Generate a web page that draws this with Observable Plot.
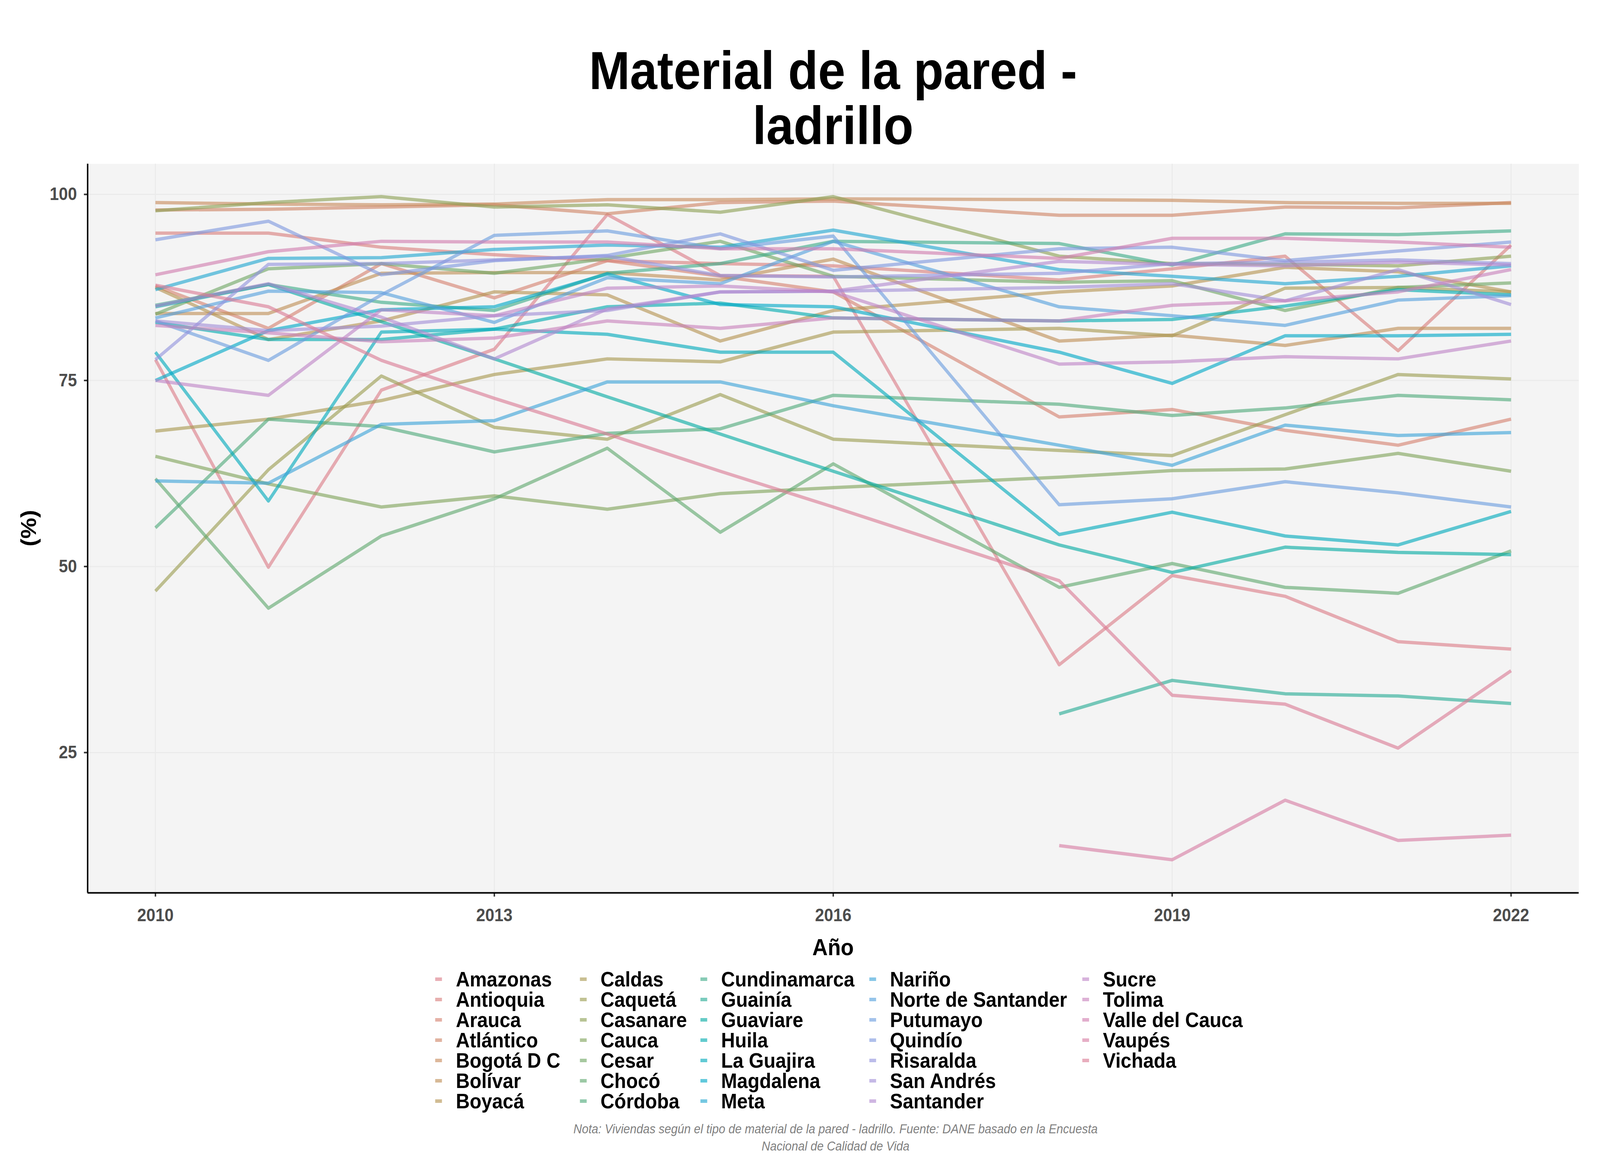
<!DOCTYPE html>
<html>
<head>
<meta charset="utf-8">
<script src="https://cdn.jsdelivr.net/npm/d3@7"></script>
<script src="https://cdn.jsdelivr.net/npm/@observablehq/plot@0.6"></script>
<style>
html, body { margin: 0; padding: 0; background: #ffffff; overflow: hidden; width: 100%; height: 100%; }
#root { position: absolute; left: 0; top: 0; width: 4500px; height: 3000px; background: #ffffff; overflow: hidden;
  transform-origin: 0 0; font-family: "Liberation Sans", Arial, Helvetica, sans-serif; }
#title { position: absolute; left: 2343px; top: 110px; transform: translateX(-50%); text-align: center;
  font-size: 138px; line-height: 141px; font-weight: bold; color: #000; white-space: nowrap; }
#ylab { position: absolute; left: 81px; top: 1352px; transform: translate(-50%, -50%) rotate(-90deg);
  font-size: 60px; font-weight: bold; color: #000; white-space: nowrap; }
#xlab { position: absolute; left: 2343px; top: 2424px; transform: translate(-50%, -50%);
  font-size: 60px; font-weight: bold; color: #000; white-space: nowrap; }
#plot { position: absolute; left: 0; top: 0; }
.item { position: absolute; height: 52px; line-height: 52px; font-size: 54px; font-weight: bold; color: #000; white-space: nowrap; }
.key { position: absolute; width: 19px; height: 9px; }
#caption { position: absolute; left: 2350px; top: 2868px; transform: translateX(-50%); text-align: center;
  font-size: 33px; line-height: 44px; font-style: italic; color: #808080; white-space: nowrap; }
svg text { font-family: "Liberation Sans", Arial, Helvetica, sans-serif; }
</style>
</head>
<body>
<div id="root">
  <div id="title">Material de la pared -<br>ladrillo</div>
  <div id="plot"></div>
  <div id="ylab">(%)</div>
  <div id="xlab">Año</div>
  <div id="legend"></div>
  <div id="caption">Nota: Viviendas según el tipo de material de la pared - ladrillo. Fuente: DANE basado en la Encuesta<br>Nacional de Calidad de Vida</div>
</div>
<script>
// ---------------- data ----------------
const years = [2010, 2011, 2012, 2013, 2014, 2015, 2016, 2018, 2019, 2020, 2021, 2022];
const xTicks = [2010, 2013, 2016, 2019, 2022];
const yTicks = [25, 50, 75, 100];

const departamentos = [
  "Amazonas", "Antioquia", "Arauca", "Atlántico", "Bogotá D C", "Bolívar", "Boyacá",
  "Caldas", "Caquetá", "Casanare", "Cauca", "Cesar", "Chocó", "Córdoba",
  "Cundinamarca", "Guainía", "Guaviare", "Huila", "La Guajira", "Magdalena", "Meta",
  "Nariño", "Norte de Santander", "Putumayo", "Quindío", "Risaralda", "San Andrés", "Santander",
  "Sucre", "Tolima", "Valle del Cauca", "Vaupés", "Vichada"
];

const amazonas      = [77.8, 49.9, 73.7, 79.2, 97.3, 89.1, 89.0, 36.8, 48.8, 46.0, 39.9, 38.9];
const antioquia     = [94.8, 94.8, 92.9, 91.9, 91.1, 90.7, 90.4, 88.5, 90.0, 91.7, 79.0, 93.2];
const arauca        = [87.7, 82.0, 90.7, 86.1, 91.1, 89.0, 86.9, 70.1, 71.1, 68.3, 66.3, 69.8];
const atlantico     = [97.9, 98.0, 98.3, 98.6, 97.4, 98.9, 99.1, 97.2, 97.2, 98.3, 98.2, 98.9];
const bogota        = [98.9, 98.7, 98.6, 98.7, 99.3, 99.3, 99.4, 99.3, 99.2, 98.9, 98.8, 98.8];
const bolivar       = [84.0, 84.0, 89.4, 89.5, 89.5, 88.5, 91.3, 80.3, 81.1, 79.7, 82.0, 82.0];
const boyaca        = [87.5, 80.5, 83.0, 86.9, 86.5, 80.3, 84.4, 86.9, 87.7, 90.2, 89.6, 86.9];
const caldas        = [68.2, 69.8, 72.3, 75.8, 77.9, 77.5, 81.5, 82.0, 81.0, 87.4, 87.5, 86.9];
const caqueta       = [46.7, 63.0, 75.6, 68.7, 67.1, 73.1, 67.1, 65.6, 64.9, 70.4, 75.8, 75.2];
const casanare      = [97.8, 98.9, 99.7, 98.3, 98.6, 97.6, 99.7, 91.7, 90.7, 90.6, 90.4, 91.7];
const cauca         = [64.8, 61.1, 58.0, 59.5, 57.7, 59.8, 60.6, 62.0, 62.9, 63.1, 65.2, 62.8];
const cesar         = [83.9, 90.0, 90.7, 89.4, 91.4, 93.7, 89.0, 88.2, 88.4, 84.4, 87.5, 88.1];
const choco         = [61.8, 44.4, 54.1, 59.1, 65.9, 54.6, 63.8, 47.2, 50.4, 47.2, 46.4, 52.1];
const cordoba       = [55.2, 69.8, 68.8, 65.4, 67.9, 68.5, 73.0, 71.8, 70.3, 71.3, 73.0, 72.4];
const cundinamarca  = [85.1, 87.9, 85.5, 84.4, 89.4, 90.7, 93.7, 93.4, 90.5, 94.7, 94.6, 95.1];
const guainia       = [null, null, null, null, null, null, null, 30.2, 34.7, 32.9, 32.6, 31.6];
const guaviare      = [84.9, 87.9, 82.9, 77.9, 72.8, 67.8, 62.8, 52.9, 49.2, 52.6, 51.9, 51.6];
const huila         = [82.8, 80.5, 80.5, 81.9, 84.9, 85.4, 83.4, 83.0, 83.2, 85.0, 87.2, 86.5];
const laGuajira     = [78.8, 58.8, 81.5, 81.9, 81.2, 78.8, 78.8, 54.3, 57.3, 54.1, 52.9, 57.4];
const magdalena     = [75.0, 81.7, 84.5, 84.9, 89.3, 85.2, 84.9, 78.8, 74.6, 81.0, 81.0, 81.2];
const meta          = [87.2, 91.4, 91.5, 92.6, 93.2, 92.9, 95.2, 89.9, 89.0, 88.0, 89.0, 90.4];
const narino        = [61.5, 61.2, 69.1, 69.6, 74.8, 74.8, 71.6, 66.3, 63.6, 69.0, 67.6, 68.0];
const norteSantander= [83.4, 87.0, 86.8, 82.8, 88.8, 88.0, 93.7, 84.9, 83.7, 82.4, 85.8, 86.4];
const putumayo      = [83.0, 77.7, 86.5, 94.5, 95.1, 92.7, 94.4, 58.3, 59.1, 61.4, 59.9, 58.0];
const quindio       = [93.9, 96.4, 89.2, 91.1, 91.8, 94.7, 89.8, 92.7, 92.9, 91.1, 92.4, 93.6];
const risaralda     = [77.8, 90.6, 90.7, 91.2, 91.7, 89.1, 88.9, 89.4, 90.7, 90.9, 91.2, 90.7];
const sanAndres     = [83.0, 81.7, 82.3, 83.7, 84.4, 86.9, 87.0, 87.5, 88.0, 85.7, 89.9, 85.2];
const santander     = [85.0, 88.0, 83.5, 77.9, 84.6, 86.9, 87.0, 91.0, 90.6, 90.4, 90.9, 90.5];
const sucre         = [75.0, 73.0, 84.5, 83.7, 87.4, 87.7, 86.9, 77.2, 77.5, 78.2, 77.9, 80.3];
const tolima        = [82.4, 81.4, 80.2, 80.7, 83.0, 82.0, 83.4, 83.0, 85.1, 85.7, 86.9, 89.9];
const valle         = [89.2, 92.3, 93.7, 93.6, 93.6, 92.7, 92.7, 91.4, 94.1, 94.1, 93.6, 92.9];
const vaupes        = [null, null, null, null, null, null, null, 12.5, 10.6, 18.6, 13.2, 13.9];
const vichada       = [87.8, 84.9, 77.7, 72.6, 67.8, 62.8, 58.0, 48.1, 32.7, 31.5, 25.6, 36.0];

const series = [amazonas, antioquia, arauca, atlantico, bogota, bolivar, boyaca,
  caldas, caqueta, casanare, cauca, cesar, choco, cordoba,
  cundinamarca, guainia, guaviare, huila, laGuajira, magdalena, meta,
  narino, norteSantander, putumayo, quindio, risaralda, sanAndres, santander,
  sucre, tolima, valle, vaupes, vichada];

// ---------------- build table ----------------
const rows = [];
departamentos.forEach((d, i) => {
  series[i].forEach((v, j) => {
    if (v != null) rows.push({dept: d, year: years[j], value: v});
  });
});

// muted hue palette (style)
const palette = departamentos.map((d, i) => d3.hcl(15 + i * 360 / departamentos.length, 40, 63).formatHex());
const lineOpacity = 0.62;

const xDomain = [2009.4, 2022.6];
const yDomain = [6.15, 104.1];

const chart = Plot.plot({
  width: 4500,
  height: 2480,
  marginLeft: 246,
  marginRight: 60,
  marginTop: 419,
  marginBottom: 195,
  style: {background: "transparent", fontFamily: "Liberation Sans, Arial, sans-serif", overflow: "visible"},
  x: {domain: xDomain, label: null},
  y: {domain: yDomain, label: null},
  color: {domain: departamentos, range: palette},
  marks: [
    Plot.frame({fill: "#f4f4f4", stroke: "none"}),
    Plot.gridY(yTicks, {stroke: "#ebebeb", strokeOpacity: 1, strokeWidth: 3}),
    Plot.gridX(xTicks, {stroke: "#ebebeb", strokeOpacity: 1, strokeWidth: 3}),
    Plot.line(rows, {x: "year", y: "value", z: "dept", stroke: "dept",
      strokeWidth: 8.5, strokeOpacity: lineOpacity, strokeLinecap: "butt", strokeLinejoin: "round"}),
    Plot.axisY({ticks: yTicks, tickSize: 10, tickPadding: 20, fontSize: 46, fontWeight: "bold",
      fill: "#4d4d4d", stroke: "#333333", strokeWidth: 4, label: null}),
    Plot.axisX({ticks: xTicks, tickFormat: d => String(d), tickSize: 10, tickPadding: 30, fontSize: 46,
      fontWeight: "bold", fill: "#4d4d4d", stroke: "#333333", strokeWidth: 4, label: null}),
    Plot.ruleX([xDomain[0]], {stroke: "#000", strokeWidth: 4}),
    Plot.ruleY([yDomain[0]], {stroke: "#000", strokeWidth: 4})
  ]
});
chart.querySelectorAll("text").forEach(t => t.setAttribute("font-weight", "bold"));
document.getElementById("plot").appendChild(chart);

// ---------------- legend ----------------
const legend = document.getElementById("legend");
const colText = [1282, 1689, 2028, 2503, 3102];
const perCol = 7;
departamentos.forEach((d, i) => {
  const c = Math.floor(i / perCol), r = i % perCol;
  const cy = 2506 + r * 52;
  const key = document.createElement("div");
  key.className = "key";
  key.style.left = (colText[c] - 58) + "px";
  key.style.top = (cy - 4.5) + "px";
  key.style.background = palette[i];
  key.style.opacity = lineOpacity;
  legend.appendChild(key);
  const it = document.createElement("div");
  it.className = "item";
  it.style.left = colText[c] + "px";
  it.style.top = (cy - 26) + "px";
  it.textContent = d;
  legend.appendChild(it);
});

// ---------------- fit the 4500x3000 design to the window ----------------
function fit() {
  const root = document.getElementById("root");
  const w = window.innerWidth || 4500, h = window.innerHeight || 3000;
  root.style.transform = `scale(${w / 4500}, ${h / 3000})`;
}
fit();
window.addEventListener("resize", fit);
</script>
</body>
</html>
